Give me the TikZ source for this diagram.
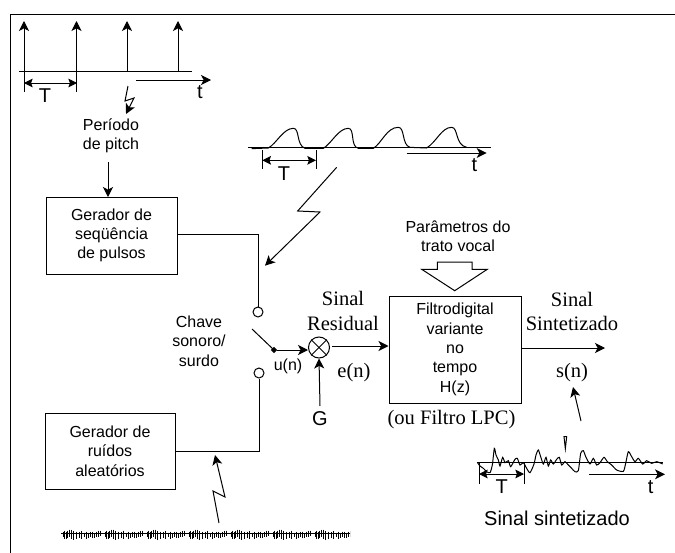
\documentclass[tikz,border=0pt]{standalone}
\usepackage{fontspec}
\setmainfont{Liberation Sans}
\newfontfamily\serifface{Liberation Serif}
\usetikzlibrary{arrows.meta,shapes.geometric}
\tikzset{
  x=0.75pt,y=-0.75pt,
  tip/.style={-{Stealth[length=7.5pt,width=7.5pt,inset=2pt]}},
  dimline/.style={{Stealth[length=6.5pt,width=6.5pt,inset=1.2pt]}-{Stealth[length=6.5pt,width=6.5pt,inset=1.2pt]}},
  boxnode/.style={draw,align=center,inner sep=0pt,font=\fontsize{12}{14.5}\selectfont},
  sanslabel/.style={align=center,inner sep=0pt,font=\fontsize{12}{14.5}\selectfont},
  seriflabel/.style={align=center,inner sep=0pt,font=\serifface\fontsize{15.4}{18.2}\selectfont},
  biglabel/.style={inner sep=0pt,font=\fontsize{15}{18}\selectfont},
  contact/.style={draw,circle,fill=white,inner sep=0pt,minimum size=7.5pt},
}
\begin{document}
\begin{tikzpicture}[line width=0.75pt]
\useasboundingbox (0,0) rectangle (675,553);
% frame
\draw[line width=0.9pt] (10.5,553) -- (10.5,14.5) -- (675,14.5);

% pulse train
\draw (19,71) -- (192,71);
\foreach \n/\px in {a/24,b/76.5,c/127,d/178}{
  \coordinate (base\n) at (\px,71);
  \coordinate (top\n) at (\px,21);
  \draw[tip] (base\n) -- (top\n);
}
\coordinate (ta1) at (24,72); \coordinate (ta2) at (24,92);
\coordinate (tb1) at (76.5,72); \coordinate (tb2) at (76.5,92);
\coordinate (tl) at (24,83); \coordinate (tr) at (77,83);
\draw (ta1) -- (ta2); \draw (tb1) -- (tb2);
\draw[dimline] (tl) -- (tr);
\node[biglabel] (T1) at (45,96) {T};
\coordinate (ax1s) at (136,80); \coordinate (ax1e) at (211,80);
\draw[tip] (ax1s) -- (ax1e);
\node[biglabel] (t1) at (200,92) {t};
\draw[tip] (128,86) -- (125,101) -- (134,98) -- (126,114);
\node[sanslabel] (periodo) at (111,135.5) {Período\\de pitch};

% pitch generator
\node[boxnode,minimum width=98.25pt,minimum height=57.75pt] (gen1) at (111.5,235.5) {Gerador de\\seqüência\\de pulsos};
\coordinate (p1) at (108,162);
\draw[tip] (p1) -- (108,197);
\node[contact] (c1) at (258,312) {};
\draw (gen1.east |- 0,234) -- (258,234) -- (c1.north);

% noise generator
\node[boxnode,minimum width=97.5pt,minimum height=57pt] (gen2) at (110,451) {Gerador de\\ruídos\\aleatórios};
\node[contact] (c2) at (259,373) {};
\draw (gen2.east) -- (259,451) -- (c2.south);

% switch
\node[draw,fill=black,diamond,aspect=1,inner sep=0pt,minimum size=4pt] (pivot) at (274,350) {};
\coordinate (swend) at (252,329);
\draw (swend) -- (pivot.center);
\node[draw,circle,inner sep=0pt,minimum size=15.75pt] (mult) at (319,347.5) {};
\draw (mult.north west) -- (mult.south east);
\draw (mult.north east) -- (mult.south west);
\draw[tip] (pivot) -- (mult.west |- pivot);
\node[biglabel] (G) at (320,419) {G};
\draw[tip] (320,406) -- (mult.south);
\node[sanslabel] (chave) at (199,341) {Chave\\sonoro/\\surdo};
\node[sanslabel] (un) at (288,366) {u(n)};
\node[seriflabel] (res) at (343,311) {Sinal\\Residual};
\node[seriflabel] (en) at (354,373) {e(n)};

% filter
\node[boxnode,minimum width=99pt,minimum height=80.25pt] (filt) at (455,349.5) {Filtrodigital\\variante\\no\\tempo\\H(z)};
\coordinate (res1) at (332,346);
\draw[tip] (res1) -- (filt.west |- res1);
\coordinate (out) at (605,348);
\draw[tip] (filt.east |- out) -- (out);
\node[seriflabel] (sint) at (572,311.5) {Sinal\\Sintetizado};
\node[seriflabel] (sn) at (572,373) {s(n)};
\node[seriflabel] (lpc) at (451.5,420) {(ou Filtro LPC)};
\node[sanslabel] (par) at (458,236) {Parâmetros do\\trato vocal};
\draw (437.3,262) -- (472,262) -- (472,269.3) -- (487.3,269.3) -- (454.7,290.7) -- (421.7,269.3) -- (437.3,269.3) -- cycle;

% glottal waveform
\begin{scope}[shift={(210,90)},x=0.25pt,y=-0.25pt]
  \draw (115,172) -- (842,172);
  \draw (125,176) -- (175,174) .. controls (200,160) and (220,115) .. (250,115)
     .. controls (270,115) and (258,165) .. (285,175) -- (340,175)
     .. controls (365,160) and (385,115) .. (415,115)
     .. controls (435,115) and (420,170) .. (445,175) -- (490,175)
     .. controls (515,160) and (530,112) .. (565,112)
     .. controls (585,112) and (575,165) .. (600,172) -- (650,174)
     .. controls (680,155) and (695,112) .. (725,112)
     .. controls (745,112) and (735,165) .. (770,172);
  \draw (157,180) -- (157,237);
  \draw (318,180) -- (318,237);
  \draw[dimline] (157,211) -- (318,211);
  \node[biglabel] (T2) at (222,250) {T};
  \draw[tip] (590,189) -- (830,189);
  \node[biglabel] (t2) at (793,226) {t};
  \draw[tip] (380,232) -- (263,363) -- (330,366) -- (165,527);
\end{scope}

% noise waveform
\begin{scope}
  \clip (55,520) rectangle (350,545);
  \draw[line width=1.3pt] (61,533.5) -- (350,533.5);
  \foreach \r in {0,...,6}{
    \foreach \dx/\u/\d in {2/2/3,3.5/3/5,5/2/5,6.5/3/4,8/4/3,10/4/5,12/3/6,15/2/5,18/2/4,20/3/5,23/1/3,25/2/5,27/1/4,29/2/3,31/2/4,33/1/4,35/2/3,37/3/3,39/3/2}{
      \draw[line width=0.6pt] ({61+42*\r+\dx},{533.5-\u}) -- ({61+42*\r+\dx},{533.5+\d});
    }
  }
\end{scope}
\draw[tip] (219,523) -- (213,491) -- (225,497) -- (215,455);

% synthesised waveform
\begin{scope}[shift={(460,340)},x=0.25pt,y=-0.25pt]
  \draw (52,367) -- (610,367);
  \draw plot[smooth,tension=0.4] coordinates {(52,367)(60,378)(70,385)(80,395)(90,398)(97,375)(103,325)(108,345)(115,360)(120,378)(128,352)(135,368)(145,362)(152,380)(165,358)(172,355)(180,375)(190,368)(200,385)(210,398)(222,372)(228,345)(235,330)(242,350)(250,372)(258,352)(265,378)(272,360)(280,372)(290,358)(298,352)(305,375)(315,365)(325,375)(335,385)(345,395)(355,392)(362,340)(370,332)(378,352)(390,372)(400,355)(410,375)(420,368)(432,352)(442,365)(455,375)(470,390)(490,394)(497,370)(505,335)(515,350)(525,365)(535,355)(548,372)(560,362)(575,370)(590,365)(608,372)};
  \draw (57,367) -- (57,433);
  \draw (192,367) -- (192,433);
  \draw[dimline] (57,402) -- (192,402);
  \node[biglabel] (T3) at (125,440) {T};
  \draw[tip] (387,403) -- (615,403);
  \node[biglabel] (t3) at (572,441) {t};
  \draw (312,290) -- (320,290) -- (316,326) -- cycle;
\end{scope}
\draw[tip] (581,421) -- (573,387);
\node[biglabel] (ss) at (557,518) {Sinal sintetizado};
\end{tikzpicture}
\end{document}
